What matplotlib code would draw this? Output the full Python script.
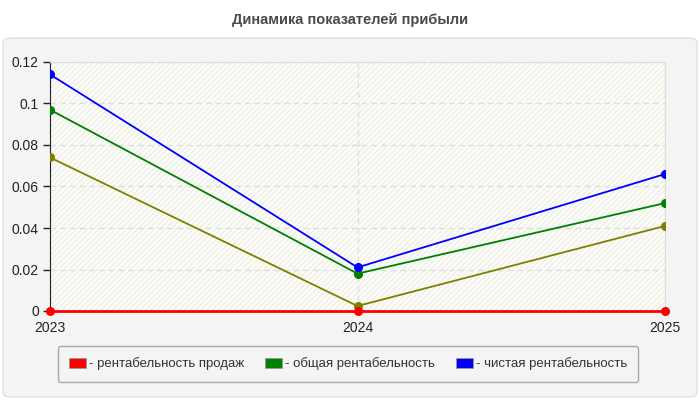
import matplotlib
matplotlib.use("Agg")
import matplotlib.pyplot as plt
from matplotlib.patches import FancyBboxPatch, Patch

plt.rcParams['font.family'] = ['Liberation Sans', 'DejaVu Sans']

# data
years = ['2023', '2024', '2025']
sales_profit = [0.0, 0.0, 0.0]          # рентабельность продаж
total_profit = [0.097, 0.018, 0.052]    # общая рентабельность
net_profit = [0.114, 0.021, 0.066]      # чистая рентабельность
extra_series = [0.074, 0.0024, 0.041]   # olive line, not in legend
legend_labels = ['- рентабельность продаж', '- общая рентабельность', '- чистая рентабельность']
y_ticks = [0, 0.02, 0.04, 0.06, 0.08, 0.1, 0.12]
y_tick_labels = ['0', '0.02', '0.04', '0.06', '0.08', '0.1', '0.12']

fig = plt.figure(figsize=(7, 4), dpi=100)
fig.patch.set_facecolor('white')

# outer grey panel
panel = FancyBboxPatch((3 / 700, 3 / 400), 694 / 700, 359 / 400,
                       boxstyle='round,pad=0,rounding_size=0.012',
                       transform=fig.transFigure, facecolor='#f4f4f4',
                       edgecolor='#e2e2e2', linewidth=1, zorder=-10)
fig.patches.append(panel)

fig.text(0.5, 1 - 20 / 400, 'Динамика показателей прибыли', ha='center', va='center',
         fontsize=10.5, fontweight='bold', color='#4a4a4a')

ax = fig.add_axes([50 / 700, 89 / 400, 615 / 700, 249 / 400])
ax.set_facecolor('#fdfdf8')
ax.add_patch(plt.Rectangle((0, 0), 1, 1, transform=ax.transAxes, facecolor='none',
                           edgecolor='#eeeeea', hatch='//////', linewidth=0, zorder=0))

x = range(len(years))
ax.plot(x, extra_series, color='#808000', lw=1.3, marker='o', ms=5.5, zorder=3)
ax.plot(x, total_profit, color='#008000', lw=1.3, marker='o', ms=5.5, zorder=3)
ax.plot(x, net_profit, color='#0000ff', lw=1.3, marker='o', ms=5.5, zorder=3)
ax.plot(x, sales_profit, color='#ff0000', lw=2, marker='o', ms=5.5, zorder=4, clip_on=False)

ax.set_xlim(0, len(years) - 1)
ax.set_ylim(0, 0.12)
ax.set_xticks(list(x))
ax.set_xticklabels(years, fontsize=10, color='#222222')
ax.set_yticks(y_ticks)
ax.set_yticklabels(y_tick_labels, fontsize=10, color='#222222')
ax.tick_params(axis='x', length=0, pad=7)
ax.tick_params(axis='y', length=5, width=1, color='#222222', pad=3)

ax.grid(True, color='#dddddd', linestyle=(0, (4, 3)), linewidth=1, zorder=1)
for side in ['top', 'right']:
    ax.spines[side].set_color('#dddddd')
ax.spines['left'].set_color('#222222')
ax.spines['bottom'].set_color('#ff0000')

handles = [Patch(facecolor=c, edgecolor='#999999', linewidth=0.6)
           for c in ['#ff0000', '#008000', '#0000ff']]
leg = fig.legend(handles, legend_labels, loc='center', bbox_to_anchor=(348 / 700, 1 - 364 / 400),
                 ncol=3, fontsize=9.5, frameon=True, fancybox=True, facecolor='#f4f4f4',
                 edgecolor='#aaaaaa', handlelength=1.3, handleheight=0.75, handletextpad=0.2,
                 columnspacing=1.6, borderpad=0.85, labelcolor='#333333')
leg.get_frame().set_linewidth(1)
leg.get_frame().set_alpha(1)

fig.savefig('out.png', dpi=100)
